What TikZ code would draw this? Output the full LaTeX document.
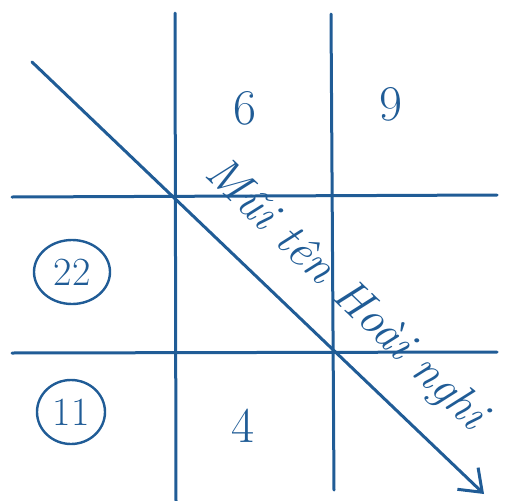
\documentclass[tikz,border=0pt]{standalone}
\usepackage{fontspec}
\setmainfont{Latin Modern Roman}
\usetikzlibrary{arrows.meta}
\definecolor{ink}{RGB}{32,92,150}
\begin{document}
\begin{tikzpicture}[x=1pt,y=-1pt,
  pen/.style={draw=ink,line width=3pt,line cap=round},
  digit/.style={text=ink,font=\fontsize{50}{50}\selectfont},
  ring/.style={draw=ink,line width=2.4pt},
  scrawl/.style={text=ink,font=\fontsize{47}{47}\selectfont\itshape}]
\useasboundingbox (0,0) rectangle (512,501);
% grid endpoints
\coordinate (v1t) at (175,13);  \coordinate (v1b) at (176,501);
\coordinate (v2t) at (331,14);  \coordinate (v2b) at (334,490);
\coordinate (h1l) at (12,197);  \coordinate (h1r) at (497,195);
\coordinate (h2l) at (12,353);  \coordinate (h2r) at (497,352);
\coordinate (ds) at (32,62);    \coordinate (de) at (484,494);
\draw[pen] (v1t) -- (v1b);
\draw[pen] (v2t) -- (v2b);
\draw[pen] (h1l) -- (h1r);
\draw[pen] (h2l) -- (h2r);
\draw[pen,-{Straight Barb[length=20pt,width=30pt,line width=3pt]}] (ds) -- (de)
  node[pos=0.62,sloped,above=22pt,scrawl] (lab) {Mũi tên Hoài nghi};
% numbers
\node[digit] (n6) at (245,108) {6};
\node[digit] (n9) at (391,104) {9};
\node[digit] (n4) at (243,426) {4};
\draw[ring] (72,272) ellipse [x radius=38, y radius=32];
\node[digit,font=\fontsize{40}{40}\selectfont] (n22) at (72,272) {22};
\draw[ring] (71,412) ellipse [x radius=34, y radius=32];
\node[digit,font=\fontsize{40}{40}\selectfont] (n11) at (71,412) {11};
\end{tikzpicture}
\end{document}
